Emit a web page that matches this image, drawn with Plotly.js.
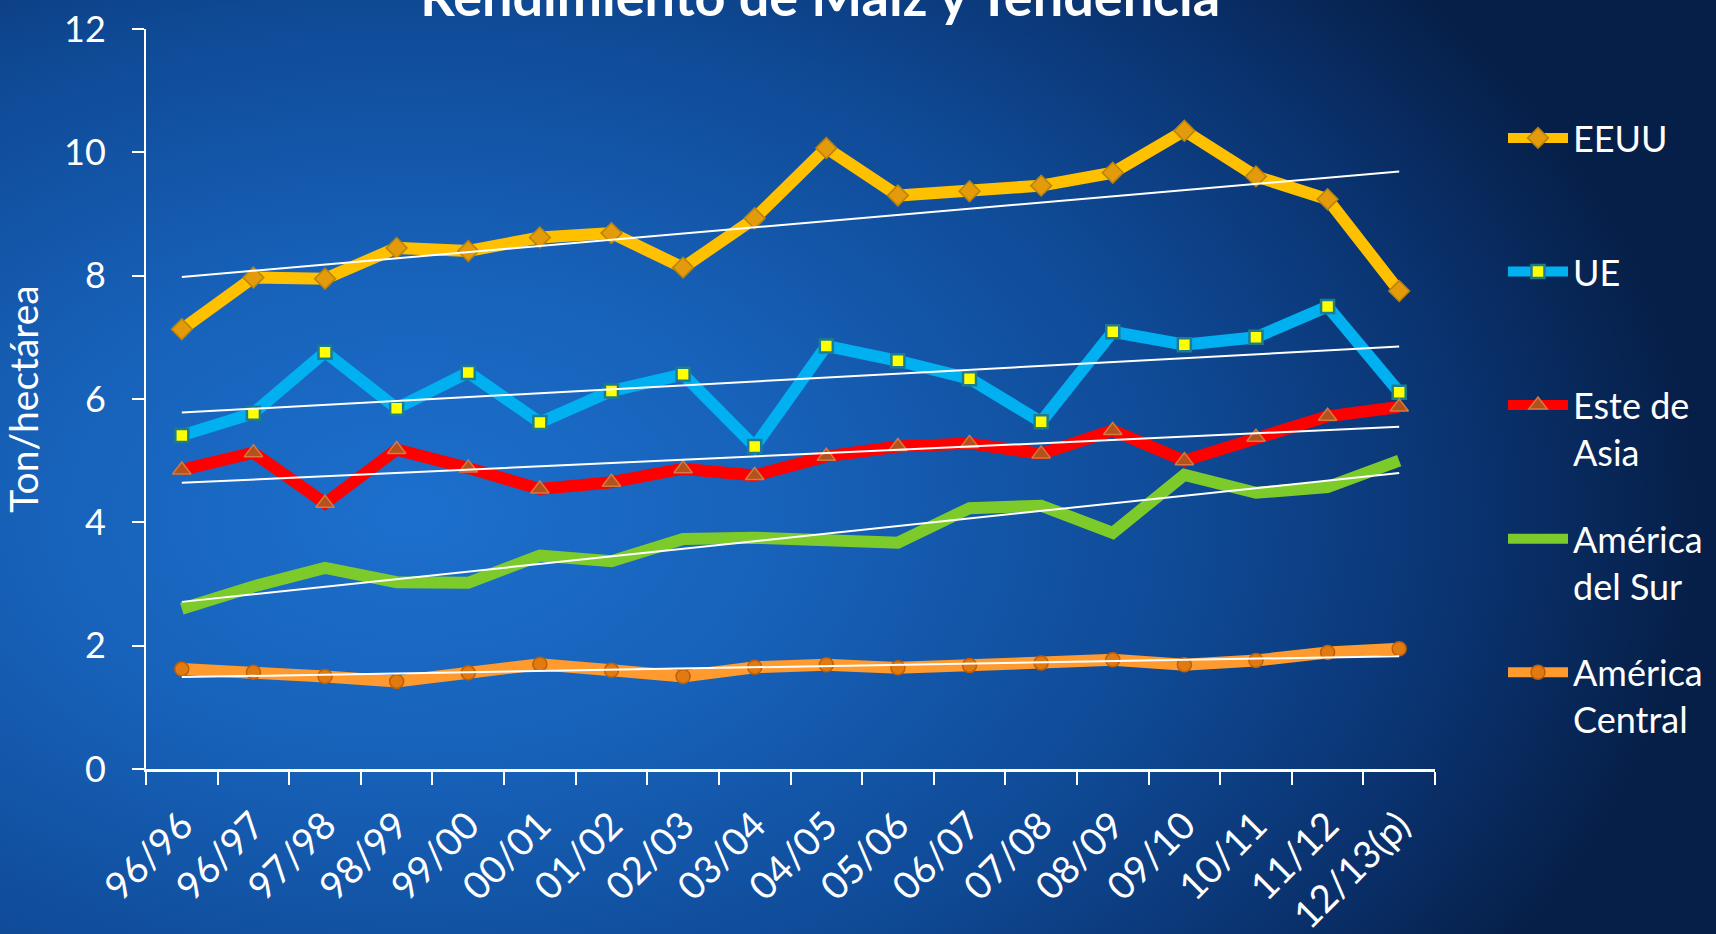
<!DOCTYPE html>
<html>
<head>
<meta charset="utf-8">
<script src="https://cdn.plot.ly/plotly-3.0.1.min.js"></script>
<style>
  html, body { margin: 0; padding: 0; width: 1716px; height: 934px; overflow: hidden; }
  #chart {
    width: 1716px; height: 934px;
    background: radial-gradient(ellipse 75% 90% at 24% 55%, #1c70cd 0%, #1761b9 30%, #0f4a96 60%, #0a3370 82%, #061f48 100%);
  }
</style>
</head>
<body>
<div id="chart"></div>
<script>
// ---- Data ----
const categories = ['96/96','96/97','97/98','98/99','99/00','00/01','01/02','02/03','03/04','04/05','05/06','06/07','07/08','08/09','09/10','10/11','11/12','12/13(p)'];

const eeuu    = [7.13, 7.97, 7.95, 8.45, 8.40, 8.62, 8.69, 8.13, 8.93, 10.07, 9.30, 9.37, 9.46, 9.67, 10.35, 9.61, 9.24, 7.75];
const ue      = [5.41, 5.77, 6.76, 5.85, 6.43, 5.62, 6.13, 6.40, 5.23, 6.86, 6.62, 6.33, 5.63, 7.09, 6.88, 7.00, 7.50, 6.11];
const asia    = [4.85, 5.13, 4.31, 5.18, 4.88, 4.54, 4.65, 4.87, 4.76, 5.07, 5.23, 5.28, 5.11, 5.49, 5.00, 5.38, 5.72, 5.87];
const sur     = [2.60, 2.96, 3.26, 3.03, 3.02, 3.46, 3.37, 3.73, 3.75, 3.73, 3.67, 4.23, 4.27, 3.83, 4.77, 4.48, 4.57, 5.00];
const central = [1.62, 1.57, 1.50, 1.42, 1.56, 1.70, 1.60, 1.50, 1.65, 1.69, 1.64, 1.68, 1.72, 1.77, 1.69, 1.76, 1.89, 1.95];

// Trend line end values (first and last category)
const trendEEUU    = [7.98, 9.69];
const trendUE      = [5.78, 6.85];
const trendAsia    = [4.64, 5.55];
const trendSur     = [2.71, 4.80];
const trendCentral = [1.49, 1.83];

const seriesNames = ['EEUU<br> ', 'UE<br> ', 'Este de<br>Asia', 'América<br>del Sur', 'América<br>Central'];
const yTickVals = [0, 2, 4, 6, 8, 10, 12];

const FONT = 'Lato, "Open Sans", sans-serif';
const trendX = [categories[0], categories[categories.length - 1]];

function series(name, y, color, marker, group) {
  const t = {
    type: 'scatter', mode: marker ? 'lines+markers' : 'lines',
    name: name, x: categories, y: y, legendgroup: group,
    line: { color: color, width: 12, shape: 'linear' },
    hoverinfo: 'x+y'
  };
  if (marker) t.marker = marker;
  return t;
}
function trend(y, group) {
  return {
    type: 'scatter', mode: 'lines', x: trendX, y: y, showlegend: false, legendgroup: group,
    line: { color: '#ffffff', width: 2 }, hoverinfo: 'skip'
  };
}

const data = [
  series(seriesNames[0], eeuu, '#FFC000', { symbol: 'diamond', size: 16, color: '#E39B0C', line: { color: '#B88206', width: 1.5 } }, 'g1'),
  series(seriesNames[1], ue, '#00B0F0', { symbol: 'square', size: 13, color: '#FFFF00', line: { color: '#1D7D8C', width: 2.5 } }, 'g2'),
  series(seriesNames[2], asia, '#FF0000', { symbol: 'triangle-up', size: 16, color: '#B4521C', line: { color: '#D47a40', width: 1.5 } }, 'g3'),
  series(seriesNames[3], sur, '#7DCB2B', null, 'g4'),
  series(seriesNames[4], central, '#FF9A2E', { symbol: 'circle', size: 14, color: '#E27A12', line: { color: '#C05E00', width: 1.5 } }, 'g5'),
  trend(trendEEUU, 'g1'),
  trend(trendUE, 'g2'),
  trend(trendAsia, 'g3'),
  trend(trendSur, 'g4'),
  trend(trendCentral, 'g5')
];

const layout = {
  width: 1716, height: 934,
  paper_bgcolor: 'rgba(0,0,0,0)',
  plot_bgcolor: 'rgba(0,0,0,0)',
  margin: { l: 146, r: 281, t: 29, b: 165, pad: 0 },
  font: { family: FONT, color: '#ffffff', size: 36 },
  title: {
    text: '<b>Rendimiento de Maíz y Tendencia</b>',
    font: { family: FONT, size: 54, color: '#ffffff' },
    xref: 'container', yref: 'container',
    x: 0.478, xanchor: 'center',
    y: 0.983, yanchor: 'bottom'
  },
  xaxis: {
    type: 'category',
    range: [-0.5, categories.length - 0.5],
    tickson: 'boundaries',
    ticks: 'outside', ticklen: 13, tickwidth: 2, tickcolor: '#ffffff',
    showline: true, linecolor: '#ffffff', linewidth: 3,
    showgrid: false, zeroline: false,
    tickangle: -45,
    tickfont: { family: FONT, size: 38, color: '#ffffff' },
    ticklabelstandoff: 16,
    fixedrange: true
  },
  yaxis: {
    range: [0, 12],
    tickvals: yTickVals,
    ticktext: yTickVals.map(String),
    ticks: 'outside', ticklen: 12, tickwidth: 2, tickcolor: '#ffffff',
    showline: true, linecolor: '#ffffff', linewidth: 2,
    showgrid: false, zeroline: false,
    tickfont: { family: FONT, size: 36, color: '#ffffff' },
    ticklabelstandoff: 19,
    title: { text: 'Ton/hectárea', font: { family: FONT, size: 39, color: '#ffffff' }, standoff: 16 },
    fixedrange: true
  },
  showlegend: true,
  legend: {
    xref: 'container', yref: 'container',
    x: 1503 / 1716, xanchor: 'left',
    y: 1 - 108 / 934, yanchor: 'top',
    bgcolor: 'rgba(0,0,0,0)',
    font: { family: FONT, size: 36, color: '#ffffff' },
    itemwidth: 60,
    valign: 'top',
    traceorder: 'grouped',
    tracegroupgap: 37,
    maxheight: 820
  },
  hovermode: false
};

Plotly.newPlot('chart', data, layout, { displayModeBar: false, staticPlot: true });
</script>
</body>
</html>
